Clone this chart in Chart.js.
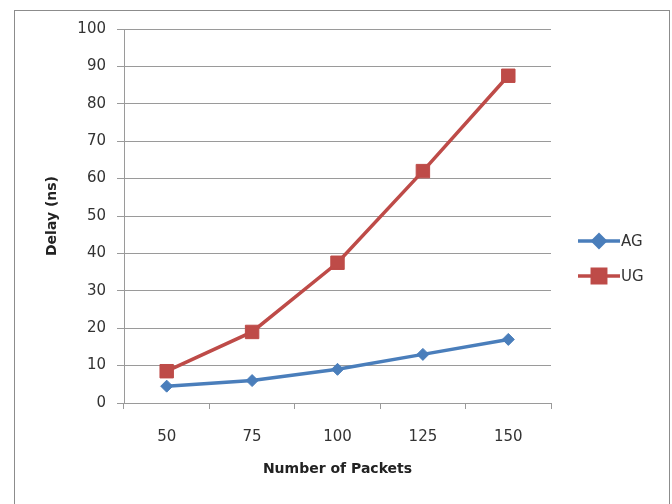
<!DOCTYPE html>
<html>
<head>
<meta charset="utf-8">
<script src="https://cdn.jsdelivr.net/npm/chart.js@4/dist/chart.umd.min.js"></script>
<style>
  html, body { margin: 0; padding: 0; background: #fff; }
  #wrap { width: 672px; height: 504px; position: relative; }
</style>
</head>
<body>
<div id="wrap"><canvas id="c" width="672" height="504"></canvas></div>
<script>
const categories = ['50', '75', '100', '125', '150'];
const agValues = [4.5, 6, 9, 13, 17];
const ugValues = [8.5, 19, 37.5, 62, 87.5];
const seriesNames = ['AG', 'UG'];
const xTitle = 'Number of Packets';
const yTitle = 'Delay (ns)';

const FONT = '"DejaVu Sans", sans-serif';
const BLUE = '#4a7ebb';
const RED = '#be4b48';
const GRID = '#9a9a9a';

const framePlugin = {
  id: 'frame',
  beforeDraw(chart) {
    const ctx = chart.ctx;
    ctx.save();
    ctx.fillStyle = '#fff';
    ctx.fillRect(0, 0, chart.width, chart.height);
    ctx.strokeStyle = '#8c8c8c';
    ctx.lineWidth = 1;
    ctx.strokeRect(14.5, 10.5, 655, 600);
    ctx.restore();
  }
};

const legendPlugin = {
  id: 'customLegend',
  afterDraw(chart) {
    const ctx = chart.ctx;
    const ys = [241, 276];
    chart.data.datasets.forEach((ds, i) => {
      const y = ys[i];
      ctx.save();
      ctx.strokeStyle = ds.borderColor;
      ctx.lineWidth = 3.5;
      ctx.beginPath();
      ctx.moveTo(578, y);
      ctx.lineTo(620, y);
      ctx.stroke();
      Chart.helpers.drawPoint(ctx, {
        pointStyle: ds.pointStyle,
        radius: ds.pointRadius,
        borderWidth: 1
      }, 599, y);
      ctx.fillStyle = ds.pointBackgroundColor;
      ctx.strokeStyle = ds.pointBorderColor;
      ctx.fill();
      ctx.fillStyle = '#333';
      ctx.font = '15px ' + FONT;
      ctx.textAlign = 'left';
      ctx.textBaseline = 'middle';
      ctx.fillText(ds.label, 621, y + 1);
      ctx.restore();
    });
  }
};

new Chart(document.getElementById('c'), {
  type: 'line',
  data: {
    labels: categories,
    datasets: [
      {
        label: seriesNames[0],
        data: agValues,
        borderColor: BLUE,
        backgroundColor: BLUE,
        pointBackgroundColor: BLUE,
        pointBorderColor: BLUE,
        borderWidth: 3.5,
        pointStyle: 'rectRot',
        pointRadius: 6,
        pointBorderWidth: 1,
        tension: 0
      },
      {
        label: seriesNames[1],
        data: ugValues,
        borderColor: RED,
        backgroundColor: RED,
        pointBackgroundColor: RED,
        pointBorderColor: RED,
        borderWidth: 3.5,
        pointStyle: 'rect',
        pointRadius: 9.5,
        pointBorderWidth: 1,
        tension: 0
      }
    ]
  },
  options: {
    responsive: false,
    animation: false,
    layout: { padding: { top: 29, left: 38, right: 121, bottom: 0 } },
    plugins: {
      legend: { display: false },
      tooltip: { enabled: false }
    },
    scales: {
      x: {
        offset: true,
        grid: {
          offset: true,
          drawOnChartArea: false,
          drawTicks: true,
          tickLength: 6,
          color: GRID
        },
        border: { color: GRID, width: 1 },
        ticks: {
          color: '#333',
          font: { family: FONT, size: 15 },
          padding: 19
        },
        title: {
          display: true,
          text: xTitle,
          color: '#222',
          font: { family: FONT, size: 14, weight: 'bold' },
          padding: { top: 0, bottom: 26 }
        },
        afterFit(scale) { scale.height = 101; }
      },
      y: {
        min: 0,
        max: 100,
        ticks: {
          stepSize: 10,
          color: '#333',
          font: { family: FONT, size: 15 },
          padding: 11
        },
        grid: {
          color: GRID,
          tickLength: 7,
          lineWidth: 1
        },
        border: { color: GRID, width: 1 },
        title: {
          display: true,
          text: yTitle,
          color: '#222',
          font: { family: FONT, size: 14, weight: 'bold' },
          padding: { top: 6, bottom: 0 }
        },
        afterFit(scale) { scale.width = 86; }
      }
    }
  },
  plugins: [framePlugin, legendPlugin]
});
</script>
</body>
</html>
